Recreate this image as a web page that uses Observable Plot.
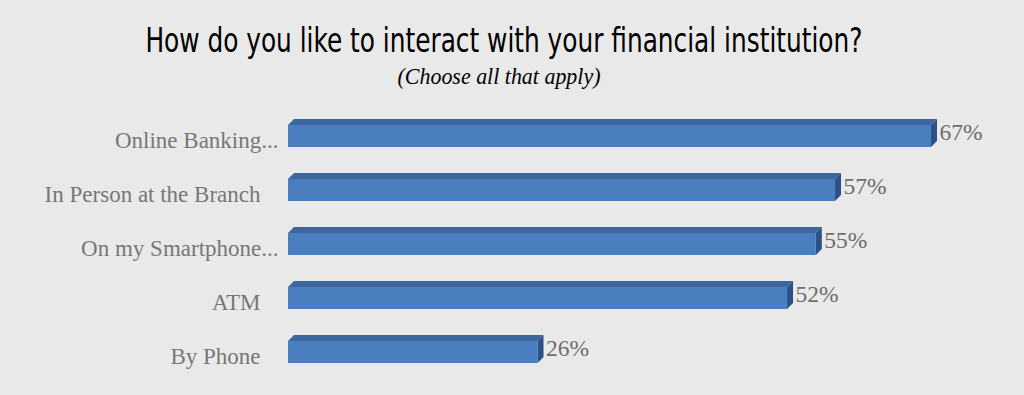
<!DOCTYPE html>
<html>
<head>
<meta charset="utf-8">
<script src="https://cdn.jsdelivr.net/npm/d3@7"></script>
<script src="https://cdn.jsdelivr.net/npm/@observablehq/plot@0.6"></script>
<style>
  html, body { margin: 0; padding: 0; background: #e9e9e9; width: 1024px; height: 395px; overflow: hidden; }
  #head { position: relative; width: 1024px; height: 90px; }
  #t1 { position: absolute; left: 0; top: 24px; width: 1007px; text-align: center; white-space: nowrap;
        font-family: "Liberation Sans Narrow", "DejaVu Sans Condensed", "Liberation Sans", sans-serif;
        font-size: 33px; line-height: 33px; color: #000; }
  #t1 span, #t2 span { display: inline-block; transform-origin: 50% 50%; }
  #t2 { position: absolute; left: 0; top: 64px; width: 998px; text-align: center; white-space: nowrap;
        font-family: "Liberation Serif", "DejaVu Serif", serif; font-style: italic;
        font-size: 24px; line-height: 24px; color: #000; }
  #chart svg { display: block; background: transparent; }
</style>
</head>
<body>
<div id="head">
  <div id="t1"><span>How do you like to interact with your financial institution?</span></div>
  <div id="t2"><span>(Choose all that apply)</span></div>
</div>
<div id="chart"></div>
<script>
const categories = ["Online Banking...", "In Person at the Branch", "On my Smartphone...", "ATM", "By Phone"];
const values = [67, 57, 55, 52, 26];

const data = categories.map((label, i) => ({label, value: values[i]}));

const frontColor = "#4a7ebf";
const topColor = "#3d669d";
const sideColor = "#2c5185";
const depth = 6;

function faces(index, scales) {
  const xs = scales.x, ys = scales.y;
  const bw = typeof ys.bandwidth === "function" ? ys.bandwidth() : 22;
  const g = d3.create("svg:g");
  for (const row of data) {
    const x0 = xs(0), x1 = xs(row.value), y0 = ys(row.label), y1 = y0 + bw;
    g.append("polygon")
      .attr("points", [[x0, y0], [x0 + depth, y0 - depth], [x1 + depth, y0 - depth], [x1, y0]].join(" "))
      .attr("fill", topColor);
    g.append("polygon")
      .attr("points", [[x1, y0], [x1 + depth, y0 - depth], [x1 + depth, y1 - depth], [x1, y1]].join(" "))
      .attr("fill", sideColor);
  }
  return g.node();
}

const hanging = d => d.label.endsWith("...");

const plot = Plot.plot({
  width: 1024,
  height: 305,
  marginLeft: 288,
  marginRight: 93,
  marginTop: 22,
  marginBottom: 19,
  style: {background: "transparent"},
  x: {domain: [0, d3.max(values)], axis: null},
  y: {domain: categories, paddingInner: 0.6, paddingOuter: 0.2, axis: null},
  marks: [
    faces,
    Plot.barX(data, {x: "value", y: "label", fill: frontColor}),
    Plot.text(data, {x: "value", y: "label", text: d => d.value + "%", textAnchor: "start",
      dx: 8, dy: -4, fill: "#6e6e6e", fontSize: 23.5, fontFamily: "Liberation Serif"}),
    Plot.text(data.filter(d => !hanging(d)), {x: () => 0, y: "label", text: "label", textAnchor: "end",
      dx: -28, dy: 4, fill: "#777777", fontSize: 23, fontFamily: "Liberation Serif"}),
    Plot.text(data.filter(hanging), {x: () => 0, y: "label", text: "label", textAnchor: "end",
      dx: -10, dy: 4, fill: "#777777", fontSize: 23, fontFamily: "Liberation Serif"})
  ]
});
document.getElementById("chart").appendChild(plot);

// fit the condensed title and subtitle to the reference widths
function fit(sel, target) {
  const span = document.querySelector(sel);
  const w = span.getBoundingClientRect().width;
  if (w > 0) span.style.transform = `scaleX(${target / w})`;
}
fit("#t1 span", 717);
fit("#t2 span", 203);
</script>
</body>
</html>
